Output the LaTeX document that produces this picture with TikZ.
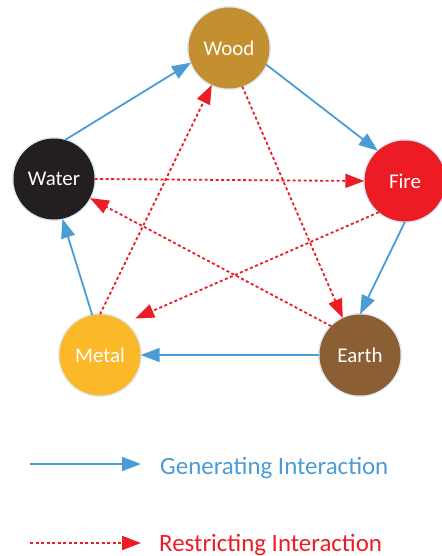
\documentclass[tikz,border=0pt]{standalone}
\usepackage{fontspec}
\setmainfont{Carlito}
\usetikzlibrary{arrows.meta}
\definecolor{woodc}{RGB}{196,143,47}
\definecolor{waterc}{RGB}{35,31,32}
\definecolor{firec}{RGB}{237,28,36}
\definecolor{metalc}{RGB}{251,184,40}
\definecolor{earthc}{RGB}{139,94,51}
\definecolor{genblue}{RGB}{75,155,215}
\definecolor{resred}{RGB}{237,28,36}
\definecolor{glow}{RGB}{222,234,246}
\tikzset{elem/.style={circle,minimum size=81bp,inner sep=0pt,text=white,font=\fontsize{21}{25}\selectfont,preaction={draw=glow,line width=3bp}},
  gen/.style={-{Triangle[length=19bp,width=14bp]},line width=1.8bp,draw=genblue},
  res/.style={-{Triangle[length=19bp,width=14bp]},line width=1.8bp,draw=resred,dash pattern=on 3bp off 2.5bp},
  legtxt/.style={anchor=base west,inner sep=0pt,font=\fontsize{25}{29}\selectfont}}

\begin{document}
\begin{tikzpicture}[x=1bp,y=-1bp]
\useasboundingbox (0,0) rectangle (442,556);
\node[elem,fill=woodc] (wood) at (229,48){Wood}; \node[elem,fill=waterc] (water) at (54,179){Water}; \node[elem,fill=firec] (fire) at (405,181){Fire};
\node[elem,fill=metalc] (metal) at (100,355){Metal}; \node[elem,fill=earthc] (earth) at (360,355){Earth};
\draw[gen] (water.74)--(wood.201); \draw[gen] (wood.336)--(fire.132); \draw[gen] (fire.270)--(earth.90); \draw[gen] (earth.180)--(metal.0); \draw[gen] (metal.101)--(water.282);
\draw[res] (water.0)--(fire.180); \draw[res,shorten >=11bp] (fire.230)--(metal.52); \draw[res] (metal.90)--(wood.245); \draw[res] (wood.289)--(earth.115); \draw[res] (earth.135)--(water.332);
\coordinate (g0) at (30,464); \coordinate (g1) at (141,464); \draw[gen] (g0)--(g1); \node[legtxt,text=genblue] (gtxt) at (160,474){Generating Interaction};
\coordinate (r0) at (30,543); \coordinate (r1) at (141,543); \draw[res] (r0)--(r1); \node[legtxt,text=resred] (rtxt) at (159,551){Restricting Interaction};
\end{tikzpicture}
\end{document}
